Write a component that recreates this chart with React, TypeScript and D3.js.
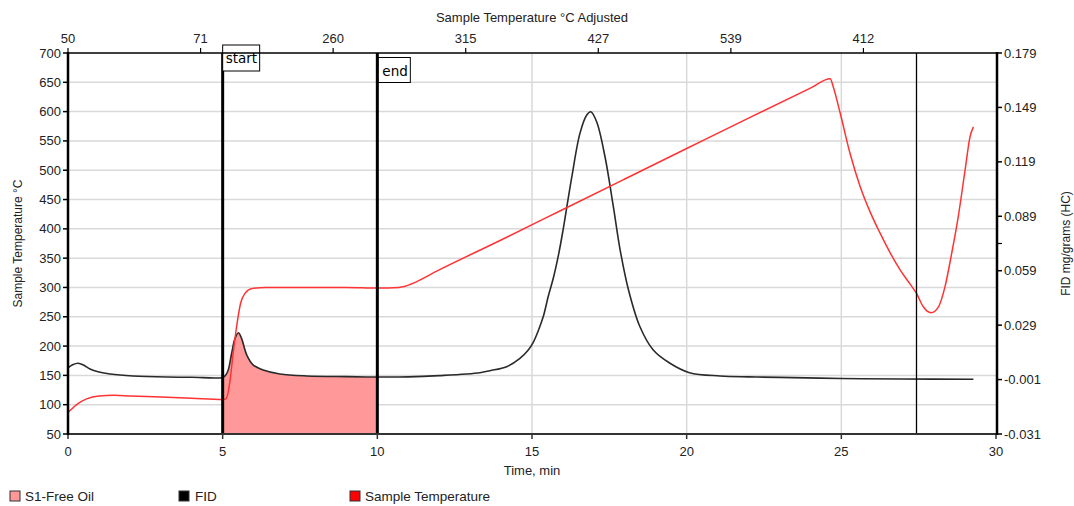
import React from "react";
import * as d3 from "d3";

const W = 1074;
const H = 506;

// Sample temperature (°C) vs time (min)
const tempTime = [0, 0.15, 0.3, 0.6, 1, 1.5, 2, 3, 4, 5, 5.1, 5.18, 5.24, 5.34, 5.45, 5.58, 5.72, 5.94, 6.4, 7, 8, 9, 10, 10.7, 10.8, 10.9, 11.1, 12, 14, 16, 18, 20, 22, 24, 24.64, 24.74, 24.96, 25.28, 25.61, 25.93, 26.25, 26.58, 26.9, 27.22, 27.43, 27.65, 27.9, 28.14, 28.35, 28.57, 28.78, 29.0, 29.16, 29.27];
const tempValues = [87, 94, 101, 110, 115, 116, 115, 113, 111, 109, 110, 122, 142, 188, 233, 273, 290, 298, 300, 300, 300, 300, 299, 300, 301, 302, 306, 330, 381, 433, 485, 537, 589, 640, 656, 642, 598, 529, 472, 429, 393, 359, 330, 306, 290, 267, 257, 267, 301, 359, 421, 500, 557, 574];

// FID signal (mg/grams HC) vs time (min)
const fidTime = [0, 0.15, 0.33, 0.5, 0.71, 1, 1.36, 2.1, 3.2, 4, 5, 5.1, 5.18, 5.29, 5.4, 5.51, 5.61, 5.78, 5.99, 6.31, 6.85, 7.72, 9.01, 10, 11, 12, 13.32, 13.64, 14.18, 14.61, 14.88, 15.04, 15.2, 15.37, 15.53, 15.69, 15.86, 16.0, 16.28, 16.55, 16.77, 16.9, 17.09, 17.36, 17.63, 17.85, 18.12, 18.49, 18.92, 19.46, 20.09, 21.08, 22, 23, 25, 27, 29.27];
const fidValues = [0.0055, 0.0072, 0.008, 0.007, 0.0048, 0.0032, 0.0021, 0.001, 0.0004, 0.0003, 0.0002, 0.0015, 0.0043, 0.0135, 0.0217, 0.0248, 0.0217, 0.0125, 0.007, 0.0043, 0.0021, 0.001, 0.0006, 0.0004, 0.0005, 0.0012, 0.0028, 0.0039, 0.0061, 0.0107, 0.0153, 0.0195, 0.0258, 0.034, 0.0452, 0.055, 0.068, 0.081, 0.11, 0.1347, 0.1448, 0.1466, 0.1411, 0.1218, 0.0943, 0.0704, 0.0484, 0.0281, 0.0153, 0.008, 0.0028, 0.001, 0.0005, 0.0002, -0.0004, -0.0007, -0.0008];

const leftTicks = [50, 100, 150, 200, 250, 300, 350, 400, 450, 500, 550, 600, 650, 700];
const rightTicks = [-0.031, -0.001, 0.029, 0.059, 0.089, 0.119, 0.149, 0.179];
const rightMinorTicks = [0.074];
const bottomTicks = [0, 5, 10, 15, 20, 25, 30];
const topTickLabels = ["50", "71", "260", "315", "427", "539", "412"];

const s1Start = 5;
const s1End = 10;
const markerLine = 27.43;

const legendItems = [
  { label: "S1-Free Oil", color: "#ff9999", x: 10, tx: 25 },
  { label: "FID", color: "#000000", x: 179, tx: 195 },
  { label: "Sample Temperature", color: "#ff0000", x: 350, tx: 365 },
];

const FONT = "'Liberation Sans', Arial, sans-serif";

export default function App() {
  const x = d3.scaleLinear().domain([0, 30]).range([68, 996]);
  const yL = d3.scaleLinear().domain([50, 700]).range([434, 53]);
  const yR = d3.scaleLinear().domain([-0.031, 0.179]).range([434, 53]);

  const tempData = tempTime.map((t, i) => [t, tempValues[i]] as [number, number]);
  const fidData = fidTime.map((t, i) => [t, fidValues[i]] as [number, number]);
  const s1Data = fidData.filter((d) => d[0] >= s1Start && d[0] <= s1End);

  const tempLine = d3
    .line<[number, number]>()
    .x((d) => x(d[0]))
    .y((d) => yL(d[1]))
    .curve(d3.curveMonotoneX);
  const fidCurve = d3.curveCatmullRom.alpha(0.5);
  const fidLine = d3
    .line<[number, number]>()
    .x((d) => x(d[0]))
    .y((d) => yR(d[1]))
    .curve(fidCurve);
  const s1Area = d3
    .area<[number, number]>()
    .x((d) => x(d[0]))
    .y0(yR(-0.031))
    .y1((d) => yR(d[1]))
    .curve(fidCurve);

  const [x0, x1] = x.range();
  const yTop = yL(700);
  const yBot = yL(50);
  const topTickPos = topTickLabels.map((_, i) => (i * 30) / 7);

  return (
    <svg
      width={W}
      height={H}
      style={{ position: "absolute", left: 0, top: 0, background: "#fff" }}
      fontFamily={FONT}
    >
      <rect x={0} y={0} width={W} height={H} fill="#fff" />
      {/* grid */}
      <g stroke="#d9d9d9" strokeWidth={1.5}>
        {leftTicks
          .filter((v) => v > 50 && v < 700)
          .map((v) => (
            <line key={"h" + v} x1={x0} x2={x1} y1={yL(v)} y2={yL(v)} />
          ))}
        {bottomTicks
          .filter((v) => v > 0 && v < 30)
          .map((v) => (
            <line key={"v" + v} x1={x(v)} x2={x(v)} y1={yTop} y2={yBot} />
          ))}
      </g>

      {/* S1 area */}
      <path d={s1Area(s1Data) || ""} fill="#ff9999" stroke="none" />

      {/* FID line */}
      <path d={fidLine(fidData) || ""} fill="none" stroke="#2a2a2a" strokeWidth={1.6} />
      {/* Temperature line */}
      <path d={tempLine(tempData) || ""} fill="none" stroke="#ff3333" strokeWidth={1.5} />

      {/* markers */}
      <line x1={x(s1Start)} x2={x(s1Start)} y1={yTop} y2={yBot} stroke="#000" strokeWidth={3} />
      <line x1={x(s1End)} x2={x(s1End)} y1={yTop} y2={yBot} stroke="#000" strokeWidth={3} />
      <line x1={x(markerLine)} x2={x(markerLine)} y1={yTop} y2={yBot} stroke="#000" strokeWidth={1.3} />

      <g>
        <rect x={x(s1Start)} y={45} width={37} height={26} fill="#fff" stroke="#000" strokeWidth={1} />
        <text x={x(s1Start) + 3} y={63} fontSize={13.5} fontFamily="'DejaVu Sans', sans-serif" fill="#000">
          start
        </text>
        <rect x={x(s1End) + 1} y={57.5} width={32} height={25} fill="#fff" stroke="#000" strokeWidth={1} />
        <text x={x(s1End) + 5} y={76} fontSize={13.5} fontFamily="'DejaVu Sans', sans-serif" fill="#000">
          end
        </text>
      </g>

      {/* bottom axis */}
      <line x1={x0} x2={x1} y1={yBot} y2={yBot} stroke="#333" strokeWidth={2} />
      {bottomTicks.map((v) => (
        <g key={"bt" + v}>
          <line x1={x(v)} x2={x(v)} y1={yBot} y2={yBot + 5} stroke="#333" strokeWidth={1.5} />
          <text x={x(v)} y={yBot + 22} textAnchor="middle" fontSize={13} fill="#222">
            {v}
          </text>
        </g>
      ))}
      <text x={(x0 + x1) / 2} y={475} textAnchor="middle" fontSize={13} fill="#222">
        Time, min
      </text>

      {/* top axis */}
      <line x1={x0} x2={x1} y1={yTop} y2={yTop} stroke="#000" strokeWidth={1.5} />
      {topTickPos.map((t, i) => (
        <g key={"tt" + i}>
          <line x1={x(t)} x2={x(t)} y1={yTop} y2={yTop - 5} stroke="#000" strokeWidth={1.2} />
          <text x={x(t)} y={yTop - 10} textAnchor="middle" fontSize={13} fill="#222">
            {topTickLabels[i]}
          </text>
        </g>
      ))}
      <text x={(x0 + x1) / 2} y={22} textAnchor="middle" fontSize={13} fill="#222">
        Sample Temperature °C Adjusted
      </text>

      {/* left axis */}
      <line x1={x0} x2={x0} y1={yTop - 1} y2={yBot + 1} stroke="#000" strokeWidth={2.5} />
      {leftTicks.map((v) => (
        <g key={"lt" + v}>
          <line x1={x0 - 5} x2={x0} y1={yL(v)} y2={yL(v)} stroke="#000" strokeWidth={1.5} />
          <text x={x0 - 7} y={yL(v) + 4.5} textAnchor="end" fontSize={13} fill="#222">
            {v}
          </text>
        </g>
      ))}
      <text
        transform={`translate(22, ${(yTop + yBot) / 2}) rotate(-90)`}
        textAnchor="middle"
        fontSize={12}
        fill="#222"
      >
        Sample Temperature °C
      </text>

      {/* right axis */}
      <line x1={x1 + 1} x2={x1 + 1} y1={yTop - 1} y2={yBot + 1} stroke="#000" strokeWidth={2.5} />
      {rightTicks.map((v) => (
        <g key={"rt" + v}>
          <line x1={x1 + 1} x2={x1 + 6} y1={yR(v)} y2={yR(v)} stroke="#000" strokeWidth={1.5} />
          <text x={x1 + 8} y={yR(v) + 4.5} textAnchor="start" fontSize={13} fill="#222">
            {v.toFixed(3)}
          </text>
        </g>
      ))}
      {rightMinorTicks.map((v) => (
        <line key={"rm" + v} x1={x1 + 1} x2={x1 + 6} y1={yR(v)} y2={yR(v)} stroke="#000" strokeWidth={1.2} />
      ))}
      <text
        transform={`translate(1070, ${(yTop + yBot) / 2}) rotate(-90)`}
        textAnchor="middle"
        fontSize={12}
        fill="#222"
      >
        FID mg/grams (HC)
      </text>

      {/* legend */}
      {legendItems.map((it) => (
        <g key={it.label}>
          <rect x={it.x} y={491} width={10} height={10} fill={it.color} stroke="#333" strokeWidth={1} />
          <text x={it.tx} y={500.5} fontSize={13.5} fill="#222">
            {it.label}
          </text>
        </g>
      ))}
    </svg>
  );
}
